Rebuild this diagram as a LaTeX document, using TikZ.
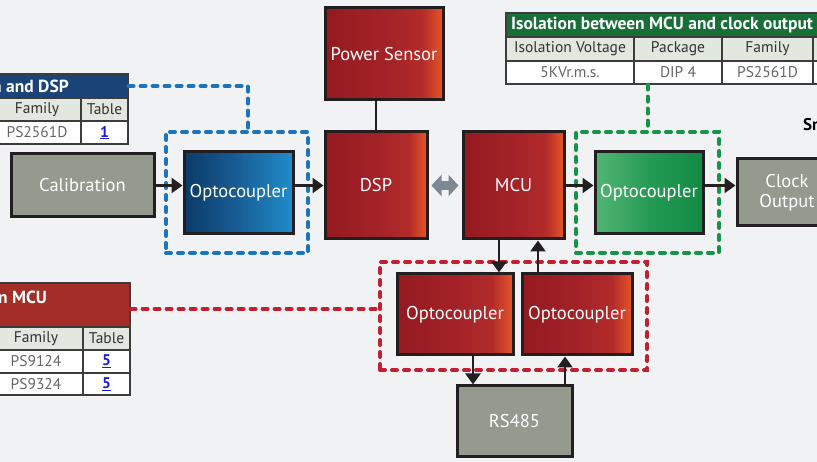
\documentclass[tikz,border=0pt]{standalone}
\usepackage{fontspec}
\setmainfont{PT Sans}
\usepackage{tikz}
\usetikzlibrary{arrows.meta,calc,positioning}

\definecolor{bgcol}{HTML}{F1F2F4}
\definecolor{edge}{HTML}{231F20}
\definecolor{boxgray}{HTML}{949A8E}
\definecolor{redA}{HTML}{941A20}
\definecolor{redB}{HTML}{A42328}
\definecolor{redC}{HTML}{B32B29}
\definecolor{redD}{HTML}{E65528}
\definecolor{blueA}{HTML}{0B3A68}
\definecolor{blueB}{HTML}{195E96}
\definecolor{blueC}{HTML}{1E8DCA}
\definecolor{greenA}{HTML}{52B673}
\definecolor{greenB}{HTML}{259B55}
\definecolor{greenC}{HTML}{118B45}
\definecolor{blueline}{HTML}{1B75BC}
\definecolor{greenline}{HTML}{169447}
\definecolor{redline}{HTML}{C41F30}
\definecolor{grayarrow}{HTML}{7B8993}
\definecolor{tabline}{HTML}{3C3C3C}
\definecolor{rowgray}{HTML}{E2E7E0}
\definecolor{headtext}{HTML}{333333}
\definecolor{celltext}{HTML}{666666}
\definecolor{linkblue}{HTML}{1A1AE6}
\definecolor{bluehd}{HTML}{1A4478}
\definecolor{redhd}{HTML}{A52D28}
\definecolor{greenhd}{HTML}{176E37}

\pgfdeclarehorizontalshading{redshade}{100bp}{color(0bp)=(redA); color(25bp)=(redA); color(52bp)=(redB); color(66bp)=(redC); color(75bp)=(redD); color(100bp)=(redD)}
\pgfdeclarehorizontalshading{blueshade}{100bp}{color(0bp)=(blueA); color(25bp)=(blueA); color(50bp)=(blueB); color(75bp)=(blueC); color(100bp)=(blueC)}
\pgfdeclarehorizontalshading{greenshade}{100bp}{color(0bp)=(greenA); color(25bp)=(greenA); color(50bp)=(greenB); color(75bp)=(greenC); color(100bp)=(greenC)}

\newcommand\blockfont{\fontsize{18.5}{20}\selectfont}
\newcommand\tabfont{\fontsize{15.5}{17}\selectfont}
\newcommand\titlefont{\fontsize{17.5}{19}\selectfont\bfseries}
\newcommand\tablink[1]{\textcolor{linkblue}{\underline{\textbf{#1}}}}

\begin{document}
\begin{tikzpicture}[x=1pt, y=-1pt, inner sep=0pt, >={Triangle[length=11pt,width=15pt]},
  block/.style={draw=edge, line width=3pt, text=white, font=\blockfont, align=center},
  graybox/.style={block, fill=boxgray},
  redbox/.style={block, shading=redshade},
  bluebox/.style={block, shading=blueshade},
  greenbox/.style={block, shading=greenshade},
  dashline/.style={draw=#1, line width=4pt, dash pattern=on 5pt off 7pt, line cap=round},
  grp/.style={dashline=#1},
  link/.style={->, draw=edge, line width=2.5pt},
  line/.style={draw=edge, line width=2.5pt},
  dbl/.style={{Triangle[length=10pt,width=21pt]}-{Triangle[length=10pt,width=21pt]}, draw=grayarrow, line width=9pt, shorten <=3pt, shorten >=3pt},
  cell/.style={draw=tabline, line width=1.2pt, fill=white, font=\tabfont, text=celltext},
  hcell/.style={cell, fill=rowgray, text=headtext},
  head/.style={draw=tabline, line width=1.2pt, fill=#1},
  title/.style={text=white, font=\titlefont}]

  \useasboundingbox (0,0) rectangle (817,462);
  \clip (0,0) rectangle (817,462);
  \fill[bgcol] (0,0) rectangle (817,462);

  % tables
  \node[head=bluehd, minimum width=330, minimum height=24] (bluehead) at (-37,86) {};
  \node[title, anchor=east] (bluetitle) at (69,86) {Isolation between Calibration and DSP};
  \node[hcell, minimum width=88, minimum height=23] (bluefam) at (37,109.5) {Family};
  \node[hcell, minimum width=47, minimum height=23] (bluetab) at (104.5,109.5) {Table};
  \node[cell, minimum width=88, minimum height=23] (bluepart) at (37,132.5) {PS2561D};
  \node[cell, minimum width=47, minimum height=23] (bluelink) at (104.5,132.5) {\tablink{1}};

  \node[head=redhd, minimum width=330, minimum height=44] (redhead) at (-35,305) {};
  \node[title, anchor=east] (redtitle) at (47,297) {Isolation of RS485 Communication in MCU};
  \node[hcell, minimum width=94, minimum height=23] (redfam) at (36,338.5) {Family};
  \node[hcell, minimum width=47, minimum height=23] (redtab) at (106.5,338.5) {Table};
  \node[cell, minimum width=94, minimum height=23] (redpa) at (36,361.5) {PS9124};
  \node[cell, minimum width=47, minimum height=23] (redla) at (106.5,361.5) {\tablink{5}};
  \node[cell, minimum width=94, minimum height=22] (redpb) at (36,384) {PS9324};
  \node[cell, minimum width=47, minimum height=22] (redlb) at (106.5,384) {\tablink{5}};

  \node[head=greenhd, minimum width=400, minimum height=24] (greenhead) at (706,25) {};
  \node[title, anchor=west] (greentitle) at (511,25) {Isolation between MCU and clock output};
  \node[hcell, minimum width=128, minimum height=24] (greenvolt) at (570,49) {Isolation Voltage};
  \node[hcell, minimum width=88, minimum height=24] (greenpkg) at (678,49) {Package};
  \node[hcell, minimum width=91, minimum height=24] (greenfam) at (767.5,49) {Family};
  \node[hcell, minimum width=47, minimum height=24] (greentab) at (836.5,49) {};
  \node[cell, minimum width=128, minimum height=23] (greenkv) at (570,72.5) {5KVr.m.s.};
  \node[cell, minimum width=88, minimum height=23] (greendip) at (678,72.5) {DIP 4};
  \node[cell, minimum width=91, minimum height=23] (greenpart) at (767.5,72.5) {PS2561D};
  \node[cell, minimum width=47, minimum height=23] (greenlink) at (836.5,72.5) {};

  \node[anchor=west, font=\fontsize{17}{19}\selectfont\bfseries] (meter) at (803,125) {Smart Meter};

  % isolation groups
  \node[grp=blueline, minimum width=142, minimum height=121] (bluegrp) at (237,192.5) {};
  \node[grp=greenline, minimum width=143, minimum height=121] (greengrp) at (647.5,192.5) {};
  \node[grp=redline, minimum width=267, minimum height=108] (redgrp) at (513.5,316) {};

  % blocks
  \node[graybox, minimum width=143, minimum height=63] (calib) at (82.5,185.5) {Calibration};
  \node[bluebox, minimum width=109, minimum height=82] (blueopto) at (238.5,193) {Optocoupler};
  \node[redbox, minimum width=118, minimum height=92] (power) at (384,54) {Power Sensor};
  \node[redbox, minimum width=102, minimum height=107] (dsp) at (376,185.5) {DSP};
  \node[redbox, minimum width=101, minimum height=107] (mcu) at (513.5,185.5) {MCU};
  \node[greenbox, minimum width=108, minimum height=82] (greenopto) at (649,193) {Optocoupler};
  \node[graybox, minimum width=100, minimum height=67] (clock) at (787,192.5) {Clock\\Output};
  \node[redbox, minimum width=116, minimum height=81] (ropto1) at (455,314.5) {Optocoupler};
  \node[redbox, minimum width=110, minimum height=81] (ropto2) at (577,314.5) {Optocoupler};
  \node[graybox, minimum width=115, minimum height=70] (rs) at (514.5,421) {RS485};

  % dashed ties to the tables
  \draw[dashline=blueline] (bluehead.east) -| ($(bluegrp.north)+(11,0)$);
  \draw[dashline=greenline] (greengrp.north |- greendip.south) -- (greengrp.north);
  \coordinate (redtap) at ($(redhead.east)+(0,4)$);
  \draw[dashline=redline] (redtap) -- (redtap -| redgrp.west);

  % signal paths
  \draw[link] (calib) -- (calib -| blueopto.west);
  \draw[link] (blueopto.east |- dsp) -- (dsp);
  \draw[line] (power.south -| dsp) -- (dsp);
  \draw[dbl] (dsp) -- (mcu);
  \draw[link] (mcu) -- (mcu -| greenopto.west);
  \draw[link] (greenopto.east |- mcu) -- (mcu -| clock.west);
  \draw[link] ([xshift=-14.5pt]mcu.south) -- ([xshift=-14.5pt]mcu.south |- ropto1.north);
  \draw[link] ([xshift=24.5pt]mcu.south |- ropto2.north) -- ([xshift=24.5pt]mcu.south);
  \draw[link] ([xshift=18pt]ropto1.south) -- ([xshift=18pt]ropto1.south |- rs.north);
  \draw[link] ([xshift=-12pt]ropto2.south |- rs.north) -- ([xshift=-12pt]ropto2.south);
\end{tikzpicture}
\end{document}
